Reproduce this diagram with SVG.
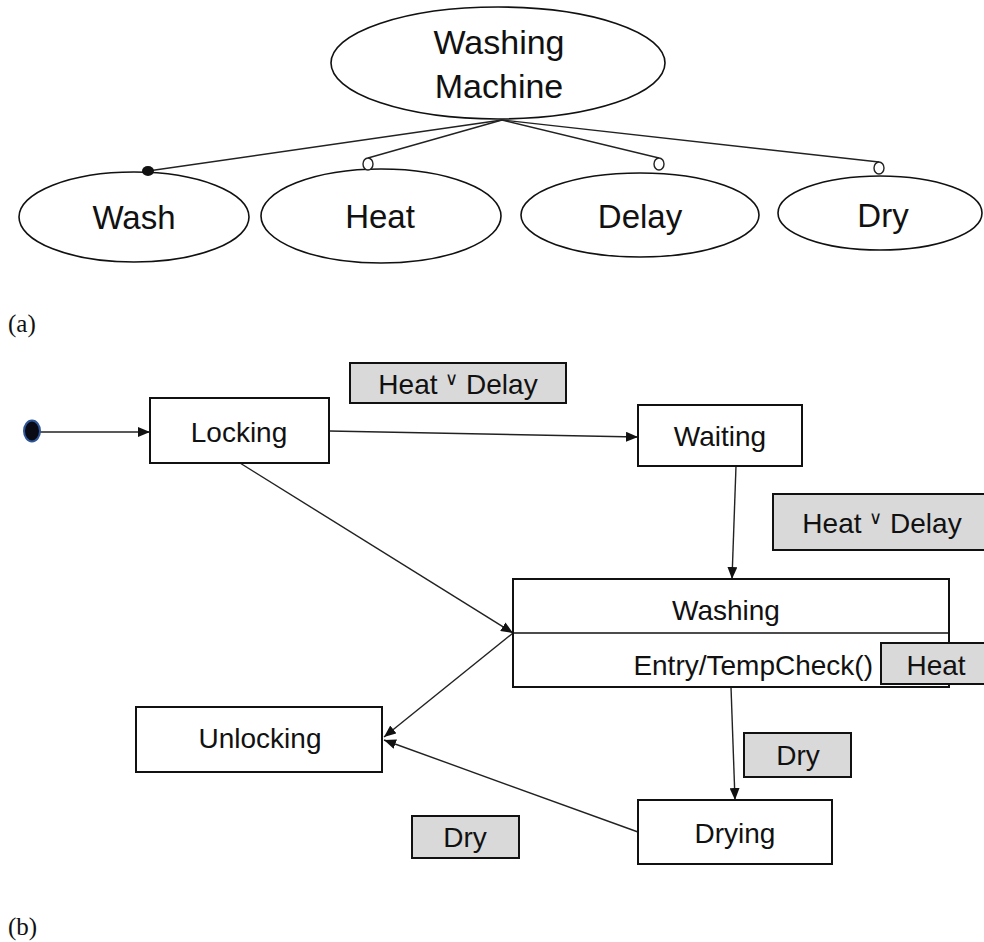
<svg xmlns="http://www.w3.org/2000/svg" width="984" height="942" viewBox="0 0 984 942">
<style>
.t{font-family:"Liberation Sans","Arial",sans-serif;fill:#111;}
.n{fill:#fff;stroke:#111;stroke-width:1.6;}
.box{fill:#fff;stroke:#111;stroke-width:2;}
.lbl{fill:#d9d9d9;stroke:#111;stroke-width:2;}
.c{stroke:#222;stroke-width:1.4;fill:none;}
.oc{fill:#fff;stroke:#222;stroke-width:1.4;}
.cap{font-family:"Liberation Serif","Times New Roman",serif;fill:#111;font-size:25px;}
</style>
<defs>
<marker id="ah" viewBox="0 0 12 10" refX="12" refY="5" markerWidth="12" markerHeight="10" markerUnits="userSpaceOnUse" orient="auto">
<path d="M0,0 L12,5 L0,10 z" fill="#111"/>
</marker>
</defs>
<rect width="984" height="942" fill="#fff"/>

<!-- (a) feature tree -->
<g id="washing-machine">
<ellipse class="n" cx="498" cy="63" rx="167" ry="56"/>
<text class="t" x="499" y="54" font-size="34" text-anchor="middle">Washing</text>
<text class="t" x="499" y="98" font-size="34" text-anchor="middle">Machine</text>
</g>
<g id="wash">
<ellipse class="n" cx="134" cy="217" rx="115" ry="45"/>
<text class="t" x="134" y="229" font-size="33" text-anchor="middle">Wash</text>
</g>
<g id="heat">
<ellipse class="n" cx="381" cy="216" rx="120" ry="47"/>
<text class="t" x="380" y="228" font-size="33" text-anchor="middle">Heat</text>
</g>
<g id="delay">
<ellipse class="n" cx="640" cy="215" rx="119" ry="42"/>
<text class="t" x="640" y="228" font-size="33" text-anchor="middle">Delay</text>
</g>
<g id="dry">
<ellipse class="n" cx="880" cy="213" rx="102" ry="37"/>
<text class="t" x="883" y="227" font-size="33" text-anchor="middle">Dry</text>
</g>
<g id="connectors-a">
<line class="c" x1="502" y1="120" x2="148" y2="171"/>
<line class="c" x1="502" y1="120" x2="368" y2="158"/>
<line class="c" x1="502" y1="120" x2="659" y2="158"/>
<line class="c" x1="502" y1="120" x2="879" y2="162"/>
<ellipse cx="148" cy="171" rx="6" ry="5" fill="#111"/>
<ellipse class="oc" cx="368" cy="164" rx="5" ry="6"/>
<ellipse class="oc" cx="659" cy="164" rx="5" ry="6"/>
<ellipse class="oc" cx="879" cy="168" rx="5" ry="6"/>
</g>
<text class="cap" x="8" y="332">(a)</text>

<!-- (b) state machine -->
<g id="connectors-b">
<line class="c" x1="40" y1="432" x2="150" y2="432" marker-end="url(#ah)"/>
<line class="c" x1="329" y1="431" x2="638" y2="437" marker-end="url(#ah)"/>
<line class="c" x1="240" y1="463" x2="513" y2="633" marker-end="url(#ah)"/>
<line class="c" x1="736" y1="466" x2="732" y2="579" marker-end="url(#ah)"/>
<line class="c" x1="513" y1="633" x2="384" y2="737" marker-end="url(#ah)"/>
<line class="c" x1="731" y1="687" x2="735" y2="800" marker-end="url(#ah)"/>
<line class="c" x1="638" y1="832" x2="384" y2="740" marker-end="url(#ah)"/>
</g>
<g id="initial">
<ellipse cx="32" cy="431" rx="8" ry="10.5" fill="#0a0a14" stroke="#2f5597" stroke-width="2"/>
</g>
<g id="locking">
<rect class="box" x="150" y="398" width="179" height="65"/>
<text class="t" x="239" y="442" font-size="28" text-anchor="middle">Locking</text>
</g>
<g id="waiting">
<rect class="box" x="638" y="405" width="164" height="61"/>
<text class="t" x="720" y="446" font-size="28" text-anchor="middle">Waiting</text>
</g>
<g id="washing">
<rect class="box" x="513" y="579" width="436" height="108"/>
<line x1="513" y1="633" x2="949" y2="633" stroke="#111" stroke-width="1.4"/>
<text class="t" x="726" y="620" font-size="28" text-anchor="middle">Washing</text>
<text class="t" x="873" y="675" font-size="28" text-anchor="end">Entry/TempCheck()</text>
</g>
<g id="unlocking">
<rect class="box" x="136" y="707" width="246" height="65"/>
<text class="t" x="260" y="748" font-size="28" text-anchor="middle">Unlocking</text>
</g>
<g id="drying">
<rect class="box" x="638" y="800" width="194" height="64"/>
<text class="t" x="735" y="843" font-size="28" text-anchor="middle">Drying</text>
</g>
<g id="label-heat-delay-1">
<rect class="lbl" x="350" y="363" width="216" height="40"/>
<text class="t" x="458" y="394" font-size="28" text-anchor="middle">Heat <tspan font-size="18" dy="-9">∨</tspan><tspan dy="9"> Delay</tspan></text>
</g>
<g id="label-heat-delay-2">
<rect class="lbl" x="773" y="494" width="215" height="56"/>
<text class="t" x="882" y="533" font-size="28" text-anchor="middle">Heat <tspan font-size="18" dy="-9">∨</tspan><tspan dy="9"> Delay</tspan></text>
</g>
<g id="label-heat">
<rect class="lbl" x="881" y="643" width="107" height="41"/>
<text class="t" x="936" y="675" font-size="28" text-anchor="middle">Heat</text>
</g>
<g id="label-dry-1">
<rect class="lbl" x="744" y="733" width="107" height="44"/>
<text class="t" x="798" y="765" font-size="28" text-anchor="middle">Dry</text>
</g>
<g id="label-dry-2">
<rect class="lbl" x="412" y="816" width="107" height="42"/>
<text class="t" x="465" y="847" font-size="28" text-anchor="middle">Dry</text>
</g>
<text class="cap" x="8" y="935">(b)</text>
</svg>
